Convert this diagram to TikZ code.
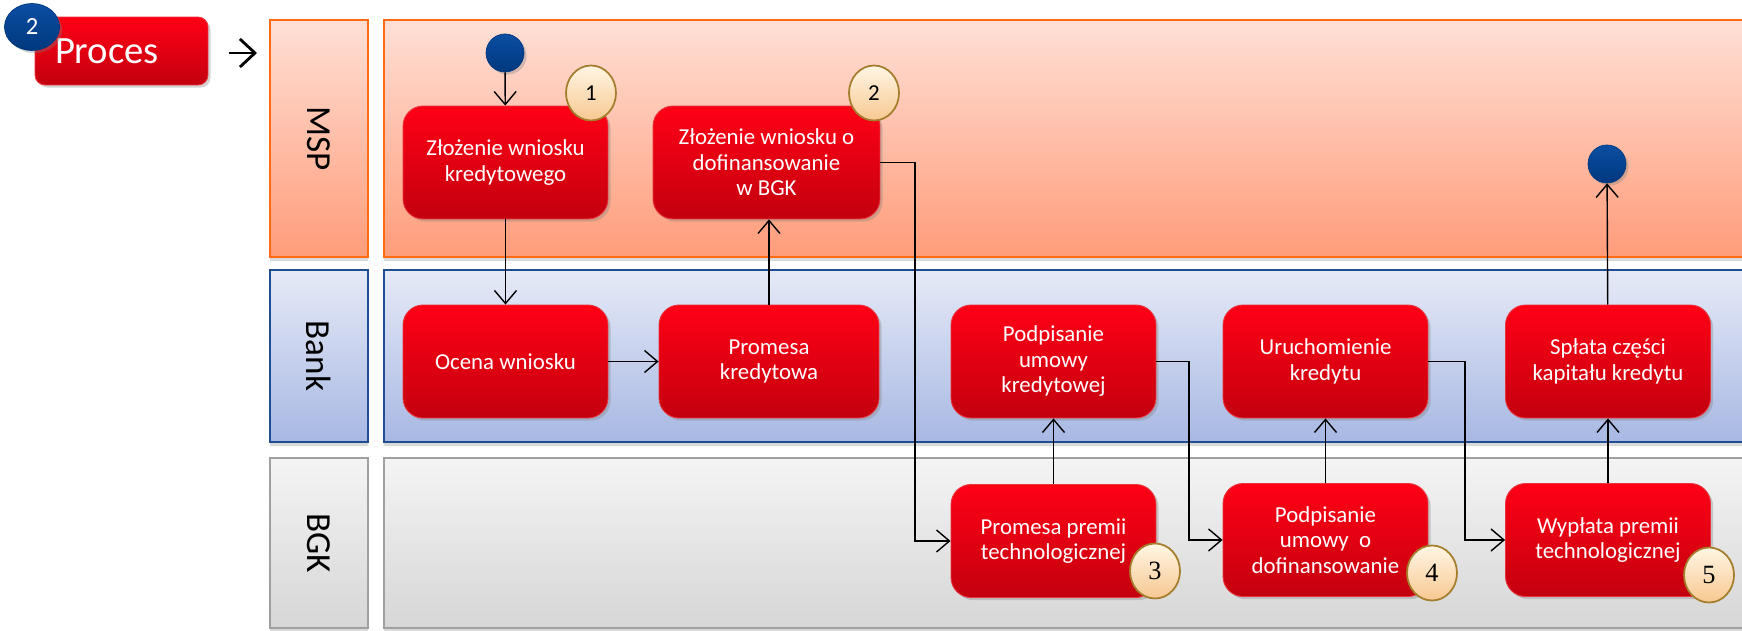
\documentclass[tikz,border=0pt]{standalone}
\usepackage{fontspec}
\setmainfont{Carlito}
\newfontfamily\numserif{Liberation Serif}
\usetikzlibrary{arrows.meta,shapes.geometric,shadows}
\definecolor{boxtop}{HTML}{FF0015}
\definecolor{boxbot}{HTML}{C3000E}
\definecolor{boxline}{HTML}{E8343D}
\definecolor{msptop}{HTML}{FFE0D6}
\definecolor{mspbot}{HTML}{FF9C7A}
\definecolor{mspline}{HTML}{FF6A13}
\definecolor{banktop}{HTML}{E6EAF7}
\definecolor{bankbot}{HTML}{A8B8E3}
\definecolor{bankline}{HTML}{1F4E94}
\definecolor{bgktop}{HTML}{F4F4F4}
\definecolor{bgkbot}{HTML}{D6D6D6}
\definecolor{bgkline}{HTML}{A0A0A0}
\definecolor{bluetop}{HTML}{0B4EA2}
\definecolor{bluebot}{HTML}{00387E}
\definecolor{badgetop}{HTML}{FFF6E4}
\definecolor{badgebot}{HTML}{F7C891}
\definecolor{badgeline}{HTML}{A57E2D}
\tikzstyle{process} = [rectangle, rounded corners=0.4cm, minimum width=4.1cm, minimum height=2.26cm, text centered, align=center, top color=boxtop, bottom color=boxbot, draw=boxline, line width=0.5pt, text=white, font=\fontsize{13}{14.5}\selectfont, drop shadow={shadow xshift=1.5pt, shadow yshift=-1.5pt, opacity=0.35}]
\tikzstyle{header} = [process, rounded corners=0.2cm, minimum width=3.46cm, minimum height=1.36cm, text width=2.66cm, inner xsep=0pt, align=left, font=\fontsize{22}{24}\selectfont]
\tikzstyle{startstop} = [circle, minimum size=0.76cm, inner sep=0pt, top color=bluetop, bottom color=bluebot, draw=bluebot, drop shadow={shadow xshift=1.5pt, shadow yshift=-1.5pt, opacity=0.35}]
\tikzstyle{badge} = [ellipse, minimum width=1cm, minimum height=1.1cm, inner sep=0pt, top color=badgetop, bottom color=badgebot, draw=badgeline, line width=1pt]
\tikzstyle{lane} = [line width=1.1pt, drop shadow={shadow xshift=0pt, shadow yshift=-2pt, opacity=0.3}]
\tikzstyle{lanetitle} = [rotate=-90, font=\fontsize{20}{24}\selectfont]
\tikzstyle{arrow} = [thick,->,>={Straight Barb[length=2.6mm,width=4.4mm]}]

\begin{document}
\begin{tikzpicture}[x=0.02cm, y=-0.02cm]
\useasboundingbox (0,0) rectangle (1742,631);

% swimlanes
\shade [lane, top color=msptop, bottom color=mspbot, draw=mspline] (270,20) rectangle (368,257);
\shade [lane, top color=msptop, bottom color=mspbot, draw=mspline] (384,20) rectangle (1760,257);
\shade [lane, top color=banktop, bottom color=bankbot, draw=bankline] (270,270) rectangle (368,442);
\shade [lane, top color=banktop, bottom color=bankbot, draw=bankline] (384,270) rectangle (1760,442);
\shade [lane, top color=bgktop, bottom color=bgkbot, draw=bgkline] (270,458) rectangle (368,628);
\shade [lane, top color=bgktop, bottom color=bgkbot, draw=bgkline] (384,458) rectangle (1760,628);
\node (msp) [lanetitle] at (319,138.5) {MSP};
\node (bank) [lanetitle] at (319,356) {Bank};
\node (bgk) [lanetitle] at (319,543) {BGK};

% header
\node (proces) [header] at (121.5,51) {Proces};
\node (nr) [startstop, ellipse, minimum width=1.1cm, minimum height=0.94cm, text=white, font=\fontsize{14}{16}\selectfont] at (32,27) {2};
\coordinate (hdra) at (229,53);
\coordinate (hdrb) at (257,53);
\draw [line width=1.6pt, -{Straight Barb[length=3mm,width=5.6mm]}] (hdra) -- (hdrb);

% MSP
\node (start) [startstop] at (505,53) {};
\node (zloz) [process] at (505.5,162.5) {Złożenie wniosku\\kredytowego};
\node (wniosek) [process, minimum width=4.54cm] at (766.5,162.5) {Złożenie wniosku o\\dofinansowanie\\w BGK};
\node (stop) [startstop] at (1607,164) {};

% Bank
\node (ocena) [process] at (505.5,361.5) {Ocena wniosku};
\node (promesa) [process, minimum width=4.4cm] at (769,361.5) {Promesa\\kredytowa};
\node (podpis) [process] at (1053.5,361.5) {Podpisanie\\umowy\\kredytowej};
\node (uruch) [process] at (1325.5,361.5) {Uruchomienie\\kredytu};
\node (splata) [process] at (1608,361.5) {Spłata części\\kapitału kredytu};

% BGK
\node (premia) [process] at (1053.5,541) {Promesa premii\\technologicznej};
\node (dofin) [process] at (1325.5,540) {Podpisanie\\umowy~~o\\dofinansowanie};
\node (wyplata) [process] at (1608,540) {Wypłata premii\\technologicznej};

% numbers
\node (nr1) [badge, font=\fontsize{13}{15}\selectfont] at (591,93) {1};
\node (nr2) [badge, font=\fontsize{13}{15}\selectfont] at (874,93) {2};
\node (nr3) [badge, font=\numserif\fontsize{15}{17}\selectfont] at (1155,571) {3};
\node (nr4) [badge, font=\numserif\fontsize{15}{17}\selectfont] at (1432,573) {4};
\node (nr5) [badge, font=\numserif\fontsize{15}{17}\selectfont] at (1709,575) {5};

\coordinate (bend1) at (915,400);
\coordinate (bend2) at (1189,450);
\coordinate (bend3) at (1465,450);

\draw [arrow] (start) -- (zloz);
\draw [arrow] (zloz) -- (ocena);
\draw [arrow] (ocena) -- (promesa);
\draw [arrow] (promesa.north) -- (promesa.north |- wniosek.south);
\draw [arrow] (wniosek.east) -| (bend1) |- (premia.west);
\draw [arrow] (premia) -- (podpis);
\draw [arrow] (podpis.east) -| (bend2) |- (dofin.west);
\draw [arrow] (dofin) -- (uruch);
\draw [arrow] (uruch.east) -| (bend3) |- (wyplata.west);
\draw [arrow] (wyplata) -- (splata);
\draw [arrow] (splata) -- (stop);

\end{tikzpicture}
\end{document}
